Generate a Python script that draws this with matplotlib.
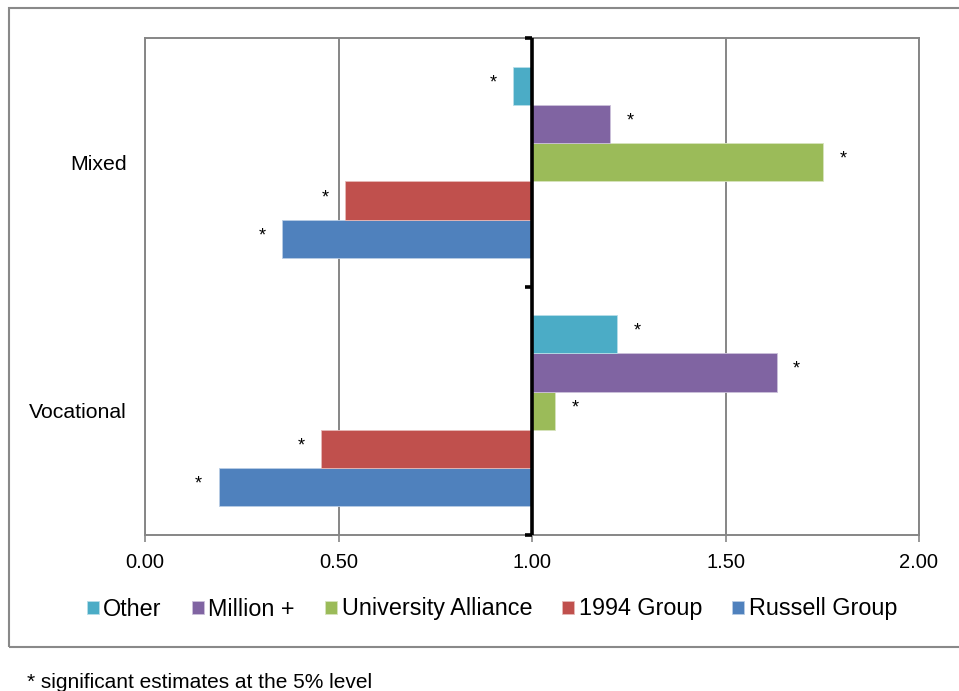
import matplotlib

matplotlib.use("Agg")
import matplotlib.pyplot as plt
from matplotlib.patches import Rectangle

plt.rcParams["font.family"] = ["Liberation Sans", "DejaVu Sans"]

categories = ["Vocational", "Mixed"]
series = ["Russell Group", "1994 Group", "University Alliance", "Million +", "Other"]
values = {
    "Russell Group": [0.19, 0.355],
    "1994 Group": [0.455, 0.518],
    "University Alliance": [1.06, 1.752],
    "Million +": [1.632, 1.202],
    "Other": [1.22, 0.952],
}
colors = {
    "Russell Group": "#4F81BD",
    "1994 Group": "#C0504D",
    "University Alliance": "#9BBB59",
    "Million +": "#8064A2",
    "Other": "#4BACC6",
}
edge_colors = {
    "Russell Group": "#B9CDE5",
    "1994 Group": "#E6B9B8",
    "University Alliance": "#D7E4BD",
    "Million +": "#CCC1DA",
    "Other": "#B7DEE8",
}
legend_order = ["Other", "Million +", "University Alliance", "1994 Group", "Russell Group"]
xticks = [0.0, 0.5, 1.0, 1.5, 2.0]
base = 1.0

fig = plt.figure(figsize=(9.59, 6.91), dpi=100)
ax = fig.add_axes([145 / 959, 1 - 535 / 691, 774 / 959, 497 / 691])

bar_h = 0.154
handles = {}
for i, name in enumerate(series):
    off = (i - 2) * bar_h
    ys = [k + off for k in range(len(categories))]
    widths = [v - base for v in values[name]]
    b = ax.barh(ys, widths, left=base, height=bar_h, color=colors[name],
                edgecolor=edge_colors[name], linewidth=0.6, zorder=3, label=name)
    handles[name] = b
    for y, v in zip(ys, values[name]):
        dx = 20 if v >= base else -20
        ax.annotate("*", (v, y), xytext=(dx, 3), textcoords="offset pixels",
                    ha="center", va="center", fontsize=13, zorder=4)

ax.set_xlim(0, 2)
ax.set_ylim(-0.5, 1.5)
ax.set_xticks(xticks)
ax.set_xticklabels([f"{t:.2f}" for t in xticks], fontsize=14.5)
ax.set_yticks(range(len(categories)))
ax.set_yticklabels(categories, fontsize=15.3)
ax.tick_params(axis="y", length=0, pad=13)
ax.tick_params(axis="x", length=5, width=1.2, color="#868686", pad=8)
ax.grid(axis="x", color="#868686", linewidth=1.4, zorder=0)
for s in ax.spines.values():
    s.set_color("#868686")
    s.set_linewidth(1.4)

# black axis at 1.0 with category boundary ticks
ax.axvline(base, color="black", linewidth=2.6, zorder=5)
ax.plot([base] * 3, [-0.5, 0.5, 1.5], linestyle="none", marker=0,
        markersize=5, markeredgewidth=2.6, color="black", zorder=5, clip_on=False)

fig.legend([handles[n] for n in legend_order], legend_order, loc="center",
           bbox_to_anchor=(492 / 959, 1 - 609 / 691), ncol=5, frameon=False,
           fontsize=16.8, handlelength=0.5, handleheight=0.5, handletextpad=0.2,
           columnspacing=1.3)

fig.patches.append(Rectangle((9 / 959, 1 - 647 / 691), 1.0, 639 / 691,
                             transform=fig.transFigure, fill=False,
                             edgecolor="#898989", linewidth=1.5))

fig.text(27 / 959, 1 - 683 / 691, "* significant estimates at the 5% level",
         fontsize=15, va="center", ha="left")

fig.savefig("out.png", dpi=100)
